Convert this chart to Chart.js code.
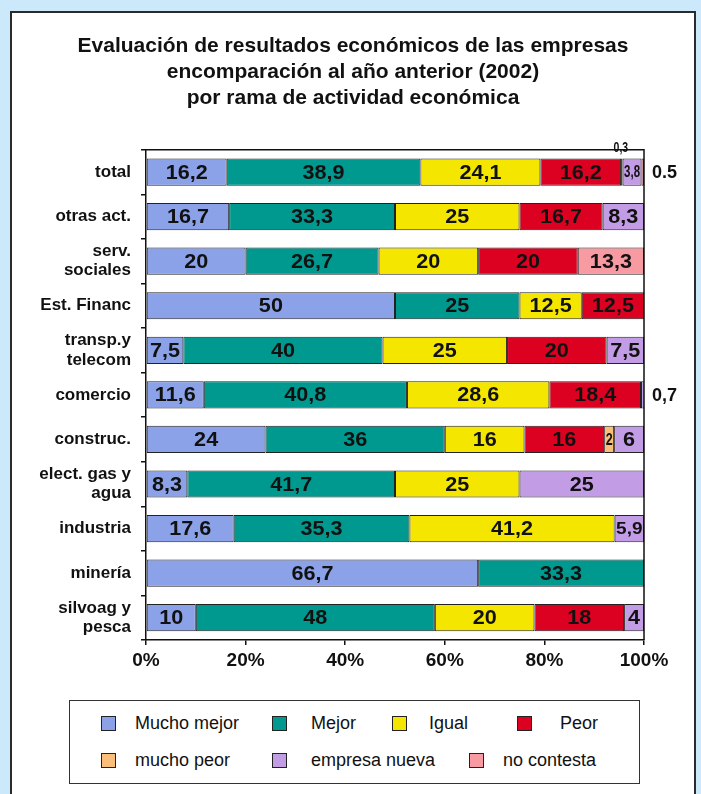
<!DOCTYPE html>
<html>
<head>
<meta charset="utf-8">
<script src="https://cdn.jsdelivr.net/npm/chart.js@4"></script>
<style>
  body { margin: 0; background: #cce8fb; width: 701px; height: 794px; overflow: hidden; font-family: "Liberation Sans", Arial, sans-serif; }
  #panel { position: absolute; left: 10px; top: 11px; width: 682px; height: 800px; background: #fff; border: 2px solid #2a2a2a; }
  #wrap { position: absolute; left: 0; top: 0; width: 701px; height: 700px; }
  #legend { position: absolute; left: 69px; top: 700px; width: 569px; height: 82px; border: 1.5px solid #333; }
  .lg-box { position: absolute; width: 13px; height: 13px; border: 1px solid #222; }
  .lg-txt { position: absolute; font-size: 18px; color: #111; line-height: 20px; white-space: nowrap; }
</style>
</head>
<body>
<div id="panel"></div>
<div id="wrap"><canvas id="myChart" width="701" height="700"></canvas></div>
<div id="legend"></div>
<script>
// categories (top to bottom)
var categories = ['total', 'otras act.', ['serv.', 'sociales'], 'Est. Financ', ['transp.y', 'telecom'],
  'comercio', 'construc.', ['elect. gas y', 'agua'], 'industria', 'minería', ['silvoag y', 'pesca']];

// % of firms per answer
var muchoMejor   = [16.2, 16.7, 20, 50, 7.5, 11.6, 24, 8.3, 17.6, 66.7, 10];
var mejor        = [38.9, 33.3, 26.7, 25, 40, 40.8, 36, 41.7, 35.3, 33.3, 48];
var igual        = [24.1, 25, 20, 12.5, 25, 28.6, 16, 25, 41.2, 0, 20];
var peor         = [16.2, 16.7, 20, 12.5, 20, 18.4, 16, 0, 0, 0, 18];
var muchoPeor    = [0.3, 0, 0, 0, 0, 0, 2, 0, 0, 0, 0];
var empresaNueva = [3.8, 8.3, 0, 0, 7.5, 0.7, 6, 25, 5.9, 0, 4];
var noContesta   = [0.5, 0, 13.3, 0, 0, 0, 0, 0, 0, 0, 0];

var seriesNames = ['Mucho mejor', 'Mejor', 'Igual', 'Peor', 'mucho peor', 'empresa nueva', 'no contesta'];
var seriesData = [muchoMejor, mejor, igual, peor, muchoPeor, empresaNueva, noContesta];
var colors = ['#8ba2e8', '#00998f', '#f5e600', '#dc0021', '#f9be7a', '#c39ce6', '#f89aa2'];

var xTicks = [0, 20, 40, 60, 80, 100];

var titleLines = ['Evaluación de resultados económicos de las empresas',
  'encomparación al año anterior (2002)',
  'por rama de actividad económica'];

var FONT = '"Liberation Sans", Arial, sans-serif';

var datasets = [];
for (var i = 0; i < seriesData.length; i++) {
  datasets.push({
    label: seriesNames[i],
    data: seriesData[i].map(function (v) { return v ? v : null; }),
    backgroundColor: colors[i],
    borderColor: '#222',
    borderWidth: 1,
    borderSkipped: false,
    barPercentage: 0.61,
    categoryPercentage: 1
  });
}

// value labels inside the bars, tiny ones outside
var labelPlugin = {
  id: 'barLabels',
  afterDatasetsDraw: function (chart) {
    var c = chart.ctx;
    var area = chart.chartArea;
    c.save();
    c.fillStyle = '#111';
    c.textBaseline = 'middle';
    for (var i = 0; i < chart.data.datasets.length; i++) {
      var meta = chart.getDatasetMeta(i);
      var vals = seriesData[i];
      for (var j = 0; j < vals.length; j++) {
        var v = vals[j];
        if (!v) continue;
        var bar = meta.data[j];
        var left = Math.min(bar.x, bar.base), right = Math.min(Math.max(bar.x, bar.base), area.right);
        var w = right - left;
        var txt = String(v).replace('.', ',');
        if (v < 1) {
          var isLast = true;
          for (var k = i + 1; k < seriesData.length; k++) if (seriesData[k][j]) isLast = false;
          if (isLast) {
            // the no contesta figure is written with a dot in the original
            if (i === 6) txt = String(v);
            c.font = 'bold 18px ' + FONT;
            c.textAlign = 'left';
            c.fillText(txt, area.right + 8, bar.y + 1);
          } else {
            c.font = 'bold 14px ' + FONT;
            c.textAlign = 'center';
            c.save();
            c.translate((left + right) / 2 - 1, bar.y - bar.height / 2 - 10);
            c.scale(0.75, 1);
            c.fillText(txt, 0, 0);
            c.restore();
          }
          continue;
        }
        c.font = 'bold 20px ' + FONT;
        var tw = c.measureText(txt).width * 1.08;
        c.textAlign = 'center';
        c.save();
        c.translate((left + right) / 2, bar.y + 1);
        if (tw > w - 3) {
          c.font = 'bold 16px ' + FONT;
          tw = c.measureText(txt).width;
          c.scale((w - 3) / tw, 1);
        } else {
          c.scale(1.08, 1);
        }
        c.fillText(txt, 0, 0);
        c.restore();
      }
    }
    // plot area frame on top and right
    c.strokeStyle = '#111';
    c.lineWidth = 1.5;
    c.beginPath();
    c.moveTo(area.left, area.top);
    c.lineTo(area.right, area.top);
    c.lineTo(area.right, area.bottom);
    c.stroke();
    c.restore();
  }
};

var ctx = document.getElementById('myChart').getContext('2d');
var myChart = new Chart(ctx, {
  type: 'bar',
  data: { labels: categories, datasets: datasets },
  plugins: [labelPlugin],
  options: {
    responsive: false,
    animation: false,
    indexAxis: 'y',
    layout: { padding: { left: 5, right: 0, top: 0, bottom: 20 } },
    plugins: {
      legend: { display: false },
      tooltip: { enabled: false },
      title: {
        display: true,
        text: titleLines,
        color: '#111',
        font: { family: FONT, size: 21, weight: 'bold', lineHeight: 1.25 },
        padding: { top: 33, bottom: 38 }
      }
    },
    scales: {
      x: {
        stacked: true,
        min: 0,
        max: 100,
        afterBuildTicks: function (s) { s.ticks = xTicks.map(function (v) { return { value: v }; }); },
        afterFit: function (s) { s.height = 40; },
        ticks: {
          color: '#111',
          padding: 4,
          font: { family: FONT, size: 19, weight: 'bold' },
          callback: function (v) { return v + '%'; }
        },
        grid: { drawOnChartArea: false, drawTicks: true, tickLength: 5, color: '#111', lineWidth: 1.5 },
        border: { display: true, color: '#111', width: 1.5 }
      },
      y: {
        stacked: true,
        afterFit: function (s) { s.width = 141; },
        ticks: {
          color: '#111',
          padding: 10,
          font: { family: FONT, size: 17, weight: 'bold', lineHeight: 1.12 }
        },
        grid: { drawOnChartArea: false, drawTicks: true, tickLength: 5, color: '#111', lineWidth: 1.5, offset: true },
        border: { display: true, color: '#111', width: 1.5 }
      },
      // empty right axis: leaves room for the 0.5 / 0,7 labels
      yRight: {
        type: 'category',
        position: 'right',
        display: true,
        afterFit: function (s) { s.width = 57; },
        ticks: { display: false },
        grid: { display: false },
        border: { display: false }
      }
    }
  }
});

// legend below the chart
var legendBoxX  = [101, 272, 392, 517, 101, 272, 469];
var legendTextX = [135, 311, 429, 560, 135, 311, 503];
var legendRowY  = [723, 723, 723, 723, 760, 760, 760];
var lg = document.getElementById('legend');
for (var n = 0; n < seriesNames.length; n++) {
  var b = document.createElement('div');
  b.className = 'lg-box';
  b.style.background = colors[n];
  b.style.left = (legendBoxX[n] - 70) + 'px';
  b.style.top = (legendRowY[n] - 7 - 701) + 'px';
  lg.appendChild(b);
  var t = document.createElement('div');
  t.className = 'lg-txt';
  t.textContent = seriesNames[n];
  t.style.left = (legendTextX[n] - 70) + 'px';
  t.style.top = (legendRowY[n] - 10 - 701) + 'px';
  lg.appendChild(t);
}
</script>
</body>
</html>
